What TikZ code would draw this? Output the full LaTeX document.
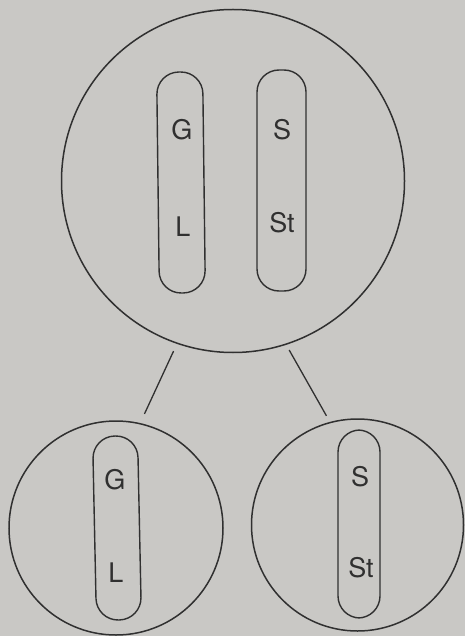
\documentclass[tikz,border=0pt]{standalone}
\usepackage{fontspec}
\setmainfont{TeX Gyre Heros}
\usetikzlibrary{calc}

\definecolor{paper}{RGB}{201,200,197}
\definecolor{ink}{RGB}{48,48,48}

\begin{document}
\begin{tikzpicture} [x=1pt,y=-1pt,
  cell/.style={draw=ink,line width=1.5pt,circle,inner sep=0pt},
  chrom/.style={draw=ink,line width=1.4pt,rounded corners=22pt,inner sep=0pt},
  gene/.style={text=ink,inner sep=0pt,font=\fontsize{27}{30}\selectfont}]
\fill[paper] (0,0) rectangle (465,636);
\useasboundingbox (0,0) rectangle (465,636);

% parent cell with both chromosomes
\node[cell,minimum size=343pt] (big) at (233,181) {};
\node[chrom,minimum width=46pt,minimum height=221pt,rotate=0.7] (chA) at (181,182.5) {};
\node[chrom,minimum width=49pt,minimum height=221pt] (chB) at (281.5,180.5) {};
\node[gene] (gA) at (182,130) {G};
\node[gene] (lA) at (183,227) {L};
\node[gene] (sB) at (282,130) {S};
\node[gene] (stB) at (282,223) {St};

% daughter cells
\node[cell,minimum size=214pt] (left) at (116,528) {};
\node[cell,minimum size=212pt] (right) at (357.5,525) {};
\node[chrom,minimum width=45pt,minimum height=184pt,rotate=1.2] (chC) at (117,528) {};
\node[chrom,minimum width=42pt,minimum height=188pt] (chD) at (359,524) {};
\node[gene] (gC) at (115,480) {G};
\node[gene] (lC) at (116,573) {L};
\node[gene] (sD) at (360,477) {S};
\node[gene] (stD) at (361,568) {St};

\draw[ink,line width=1.3pt,shorten <=8pt,shorten >=10pt] (big.251.6) -- (left.77);
\draw[ink,line width=1.3pt,shorten <=6pt,shorten >=7pt] (big.288) -- (right.105);

\end{tikzpicture}
\end{document}
